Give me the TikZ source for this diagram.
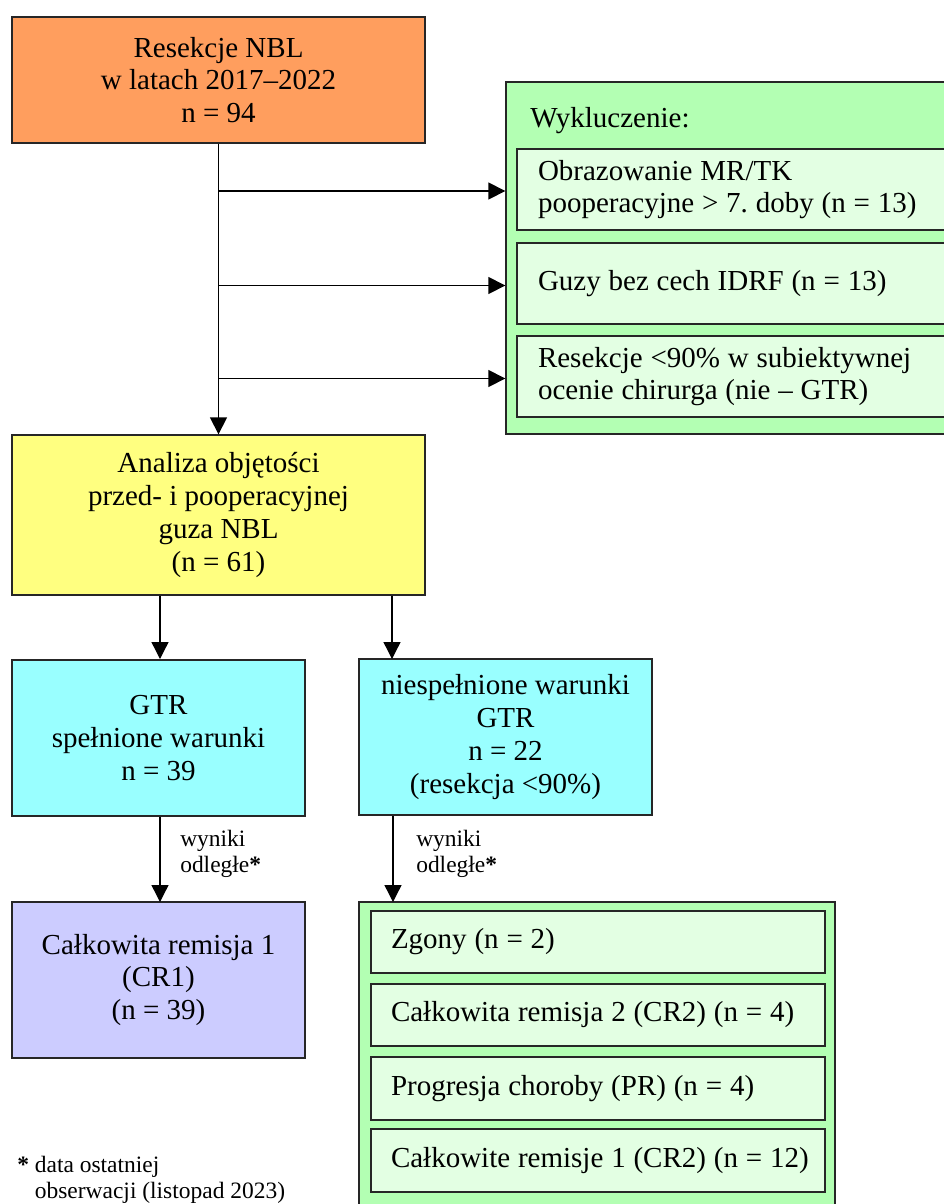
\documentclass[tikz,border=0pt]{standalone}
\usepackage{fontspec}
\setmainfont{Liberation Serif}
\usetikzlibrary{arrows.meta,calc}

% one unit of the picture grid
\def\px{0.75pt}
\newcommand\mainsize{\fontsize{21.75pt}{24.6pt}\selectfont\frenchspacing}
\newcommand\notesize{\fontsize{17.6pt}{19.5pt}\selectfont\frenchspacing}
% a left-aligned line that never breaks, set with slightly tighter word spaces
\newcommand\rowtext[1]{\makebox[\linewidth][l]{\spaceskip=0.27em\relax #1}}

\definecolor{boxorange}{HTML}{FF9E5E}
\definecolor{boxgreen}{HTML}{B3FFB3}
\definecolor{boxpale}{HTML}{E3FFE3}
\definecolor{boxyellow}{HTML}{FFFF80}
\definecolor{boxcyan}{HTML}{99FFFF}
\definecolor{boxlav}{HTML}{CCCCFF}

\begin{document}
\begin{tikzpicture}[x=\px, y=-\px,
  base/.style={draw=black!85, line width=1pt, inner sep=0pt, font=\mainsize},
  cbox/.style={base, align=center},
  widebox/.style={cbox, minimum width=413*\px},
  narrowbox/.style={cbox, minimum width=293*\px, minimum height=156*\px},
  exbox/.style={base, fill=boxpale, minimum width=435*\px, minimum height=81*\px,
                text width=393*\px, inner xsep=21*\px, align=left},
  outbox/.style={base, fill=boxpale, minimum width=454*\px, minimum height=62*\px,
                 text width=414*\px, inner xsep=20*\px, align=left},
  notelbl/.style={inner sep=0pt, font=\notesize, align=left},
  arr/.style={line width=1pt, -{Triangle[length=12.75pt, width=12.75pt]}},
]
\path[use as bounding box] (0,0) rectangle (944,1204);
\clip (0,0) rectangle (944,1204);

% starting cohort
\node[widebox, fill=boxorange, minimum height=126*\px] (start) at (218.5,80)
  {Resekcje NBL\\w latach 2017–2022\\n = 94};

% exclusion group
\node[base, fill=boxgreen, minimum width=456*\px, minimum height=352*\px] (excl) at (734,258) {};
\node[anchor=west, inner sep=0pt, font=\mainsize] (exhead) at (530,121) {Wykluczenie:};
\node[exbox] (ex1) at (734.5,189.5)
  {\rowtext{Obrazowanie MR/TK}\\\rowtext{pooperacyjne > 7. doby (n = 13)}};
\node[exbox] (ex2) at (734.5,283.5) {\rowtext{Guzy bez cech IDRF (n = 13)}};
\node[exbox] (ex3) at (734.5,376.5)
  {\rowtext{Resekcje <90\% w subiektywnej}\\\rowtext{ocenie chirurga (nie – GTR)}};

% volumetric analysis
\node[widebox, fill=boxyellow, minimum height=160*\px] (analysis) at (218.5,515)
  {Analiza objętości\\przed- i pooperacyjnej\\guza NBL\\(n = 61)};

% split by GTR criteria
\node[narrowbox, fill=boxcyan] (gtr) at (158.5,738) {GTR\\spełnione warunki\\n = 39};
\node[narrowbox, fill=boxcyan] (ngtr) at (505.5,737)
  {niespełnione warunki\\GTR\\n = 22\\(resekcja <90\%)};

% outcomes
\node[narrowbox, fill=boxlav] (cr1) at (158.5,980) {Całkowita remisja 1\\(CR1)\\(n = 39)};
\node[base, fill=boxgreen, minimum width=476*\px, minimum height=313*\px] (outc) at (597,1058.5) {};
\node[outbox] (o1) at (598,942) {\rowtext{Zgony (n = 2)}};
\node[outbox] (o2) at (598,1015) {\rowtext{Całkowita remisja 2 (CR2) (n = 4)}};
\node[outbox, minimum height=63*\px] (o3) at (598,1088.5) {\rowtext{Progresja choroby (PR) (n = 4)}};
\node[outbox, minimum height=63*\px] (o4) at (598,1160.5) {\rowtext{Całkowite remisje 1 (CR2) (n = 12)}};

% connectors
\draw[arr] (start.south) -- (analysis.north);
\draw[arr] ([yshift=-1.5*\px]start.south |- ex1.west) -- ([yshift=-1.5*\px]excl.west |- ex1.west);
\draw[arr] ([yshift=-2*\px]start.south |- ex2.west) -- ([yshift=-2*\px]excl.west |- ex2.west);
\draw[arr] ([yshift=-2*\px]start.south |- ex3.west) -- ([yshift=-2*\px]excl.west |- ex3.west);

\coordinate (gtrin) at (160,659);
\coordinate (ngtrin) at (392,659);
\draw[arr] (analysis.south -| gtrin) -- (gtrin);
\draw[arr] (analysis.south -| ngtrin) -- (ngtrin);

\coordinate (cr1in) at (160,902);
\coordinate (outin) at (393,902);
\draw[arr] (gtr.south -| cr1in) -- (cr1in);
\draw[arr] (ngtr.south -| outin) -- (outin);

\node[notelbl, anchor=west] (lbl1) at (180,854) {wyniki\\odległe\textbf{*}};
\node[notelbl, anchor=west] (lbl2) at (416,854) {wyniki\\odległe\textbf{*}};

% footnote
\node[notelbl, anchor=west] (foot) at (17,1180)
  {\textbf{*} data ostatniej\\\phantom{\textbf{*} }obserwacji (listopad 2023)};
\end{tikzpicture}
\end{document}
